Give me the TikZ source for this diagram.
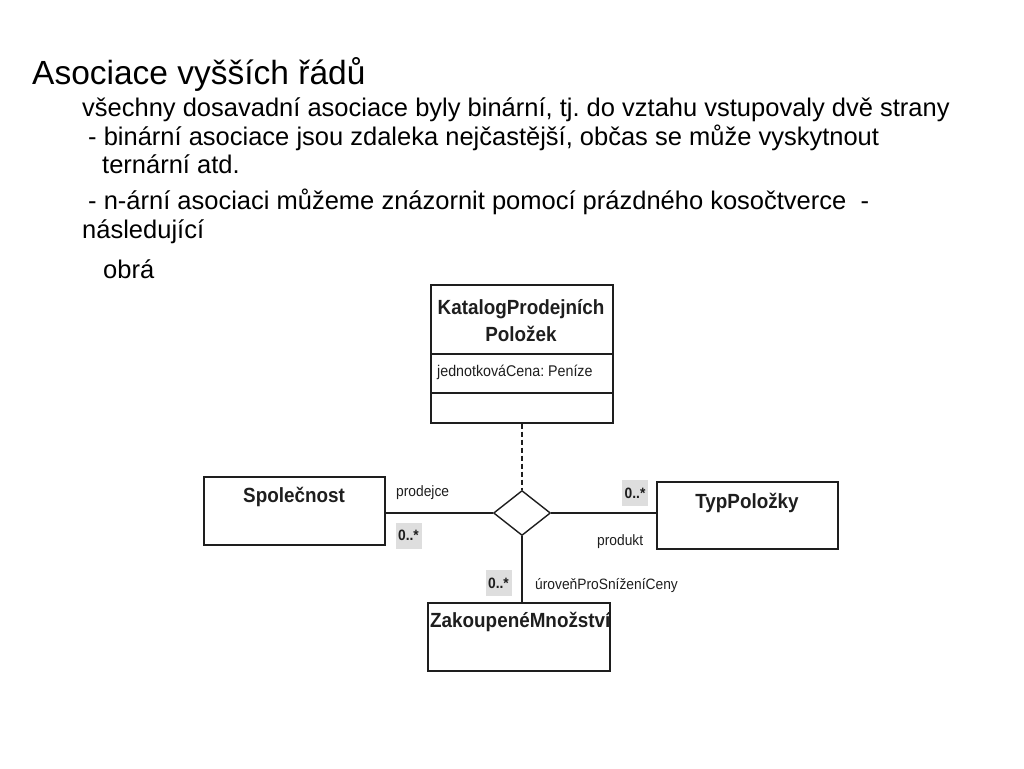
\documentclass[tikz,border=0pt]{standalone}
\usepackage{fontspec}
\setmainfont{Liberation Sans}
\newfontfamily\narrowfont[FakeStretch=0.92]{Liberation Sans}
\usetikzlibrary{shapes.geometric}
\definecolor{ink}{HTML}{1E1E1E}
\definecolor{multbg}{HTML}{DEDEDE}
\frenchspacing
\begin{document}
\begin{tikzpicture}[x=1pt,y=-1pt,
  body/.style={anchor=base west, inner sep=0pt, font=\fontsize{25.5}{30}\selectfont},
  cls/.style={draw=ink, line width=1.4pt, inner sep=0pt},
  clsname/.style={inner sep=0pt, text=ink, font=\narrowfont\bfseries\fontsize{20.5}{27}\selectfont},
  role/.style={inner sep=0pt, text=ink, font=\narrowfont\fontsize{15}{18}\selectfont},
  mult/.style={fill=multbg, inner sep=0pt, minimum width=26pt, minimum height=26pt, text=ink, font=\narrowfont\bfseries\fontsize{15}{18}\selectfont},
  conn/.style={draw=ink, line width=1.4pt}]
\useasboundingbox (0,0) rectangle (1024,768);

% slide text
\node[anchor=base west, inner sep=0pt, font=\fontsize{33.5}{38}\selectfont] (title) at (32,84) {Asociace vyšších řádů};
\node[body] (l1) at (82,116) {všechny dosavadní asociace byly binární, tj. do vztahu vstupovaly dvě strany};
\node[body] (l2) at (88,145) { - binární asociace jsou zdaleka nejčastější, občas se může vyskytnout};
\node[body] (l3) at (102,173) {ternární atd.};
\node[body] (l4) at (88,209) { - n-ární asociaci můžeme znázornit pomocí prázdného kosočtverce\ \ -};
\node[body] (l5) at (82,238) {následující};
\node[body] (l6) at (103,278) {obrá};

% classes
\node[cls, minimum width=182pt, minimum height=138pt] (kat) at (522,354) {};
\node[clsname, align=center] (katname) at (521,321) {KatalogProdejních\\Položek};
\draw[conn] (kat.west |- 0,354) -- (kat.east |- 0,354);
\draw[conn] (kat.west |- 0,393) -- (kat.east |- 0,393);
\node[role, anchor=west, font=\narrowfont\fontsize{15.5}{18}\selectfont] (katattr) at (437,372) {jednotkováCena: Peníze};

\node[cls, minimum width=181pt, minimum height=68pt] (spol) at (294.5,511) {};
\node[clsname] (spolname) at (294,497) {Společnost};

\node[cls, minimum width=181pt, minimum height=67pt] (typ) at (747.5,515.5) {};
\node[clsname] (typname) at (747,503) {TypPoložky};

\node[cls, minimum width=182pt, minimum height=68pt] (zak) at (519,637) {};
\begin{scope}
  \clip (zak.north west) rectangle (zak.south east);
  \node[clsname, anchor=west] (zakname) at (430,622) {ZakoupenéMnožství};
\end{scope}

% n-ary association
\node[diamond, draw=ink, line width=1.4pt, fill=white, inner sep=0pt, aspect=1.27, minimum width=57pt, minimum height=45pt] (dia) at (522,513) {};
\draw[conn, dash pattern=on 5pt off 3pt] (kat.south) -- (dia.north);
\draw[conn] (dia.west) -- (dia.west -| spol.east);
\draw[conn] (dia.east) -- (dia.east -| typ.west);
\draw[conn] (dia.south) -- (dia.south |- zak.north);

% roles and multiplicities
\node[role, anchor=base west] (rprod) at (396,496) {prodejce};
\node[mult] (m1) at (408.5,535.5) {0..*};
\node[mult] (m2) at (635,493) {0..*};
\node[role, anchor=base west] (rprodukt) at (597,545) {produkt};
\node[mult] (m3) at (498.5,583) {0..*};
\node[role, anchor=base west] (ruroven) at (535,589) {úroveňProSníženíCeny};
\end{tikzpicture}
\end{document}
